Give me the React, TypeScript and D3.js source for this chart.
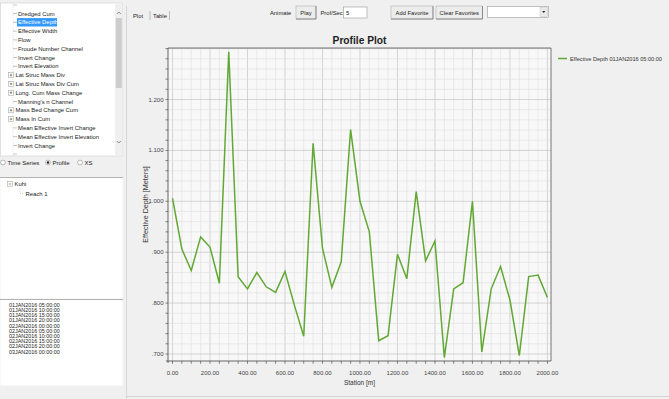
import React from 'react';
import * as d3 from 'd3';

const stations = [0, 50, 100, 150, 200, 250, 300, 350, 400, 450, 500, 550, 600, 650, 700, 750, 800, 850, 900, 950, 1000, 1050, 1100, 1150, 1200, 1250, 1300, 1350, 1400, 1450, 1500, 1550, 1600, 1650, 1700, 1750, 1800, 1850, 1900, 1950, 2000];
const effectiveDepth = [1.006, 0.906, 0.864, 0.930, 0.910, 0.839, 1.294, 0.852, 0.828, 0.860, 0.832, 0.821, 0.862, 0.796, 0.735, 1.114, 0.908, 0.831, 0.881, 1.141, 1.000, 0.940, 0.726, 0.736, 0.896, 0.848, 1.019, 0.883, 0.922, 0.693, 0.828, 0.840, 1.000, 0.704, 0.828, 0.872, 0.806, 0.697, 0.852, 0.855, 0.811];
const xMajorTicks = [0, 200, 400, 600, 800, 1000, 1200, 1400, 1600, 1800, 2000];
const yMajorTicks = [0.7, 0.8, 0.9, 1.0, 1.1, 1.2];
const seriesName = 'Effective Depth 01JAN2016 05:00:00';
const chartTitle = 'Profile Plot';
const xLabel = 'Station [m]';
const yLabel = 'Effective Depth [Meters]';

const variables = ['Dredged Cum', 'Effective Depth', 'Effective Width', 'Flow', 'Froude Number Channel', 'Invert Change', 'Invert Elevation', 'Lat Struc Mass Div', 'Lat Struc Mass Div Cum', 'Long. Cum Mass Change', "Manning's n Channel", 'Mass Bed Change Cum', 'Mass In Cum', 'Mean Effective Invert Change', 'Mean Effective Invert Elevation', 'Invert Change'];
const expandable = [false, false, false, false, false, false, false, true, true, true, false, true, true, false, false, false];
const times = ['01JAN2016 05:00:00', '01JAN2016 10:00:00', '01JAN2016 15:00:00', '01JAN2016 20:00:00', '02JAN2016 00:00:00', '02JAN2016 05:00:00', '02JAN2016 10:00:00', '02JAN2016 15:00:00', '02JAN2016 20:00:00', '03JAN2016 00:00:00'];

const UI = "'Liberation Sans', Arial, sans-serif";
const GREEN = '#62a834';

export default function App() {
  const left = 168, right = 551, top = 48, bottom = 361;
  const x = d3.scaleLinear().domain([-24, 2019]).range([left, right]);
  const y = d3.scaleLinear().domain([0.6862, 1.3012]).range([bottom, top]);
  const xMinor = d3.range(0, 2001, 50);
  const yMinor = d3.range(70, 131, 2).map((v) => v / 100);
  const line = d3.line<number>().x((_, i) => x(stations[i])).y((d) => y(d));
  const fy = (v: number) => d3.format('.3f')(v).replace(/^0/, '');
  const fx = d3.format('.2f');

  const button = (bx: number, bw: number, label: string) => (
    <g key={label}>
      <rect x={bx} y={6} width={bw} height={13} fill="#ececec" stroke="#b4b4b4" strokeWidth={0.6} />
      <line x1={bx + bw} y1={6} x2={bx + bw} y2={19} stroke="#7a7a7a" strokeWidth={0.8} />
      <line x1={bx} y1={19} x2={bx + bw} y2={19} stroke="#7a7a7a" strokeWidth={0.8} />
      <text x={bx + bw / 2} y={14.8} textAnchor="middle" fontSize={5.8} fill="#222">{label}</text>
    </g>
  );

  return (
    <svg width={669} height={399} style={{ position: 'absolute', left: 0, top: 0, fontFamily: UI }}>
      <defs>
        <clipPath id="listClip"><rect x={0} y={3} width={114} height={153} /></clipPath>
      </defs>
      <rect x={0} y={0} width={669} height={399} fill="#f0f0f0" />

      {/* Left panel: variable list */}
      <rect x={0.5} y={3} width={122} height={153} fill="#fff" stroke="#d0d0d0" strokeWidth={0.6} />
      <g clipPath="url(#listClip)">
        <line x1={13} y1={3} x2={13} y2={158} stroke="#c8c8c8" strokeWidth={0.5} strokeDasharray="1,1" />
        <line x1={13} y1={5} x2={17} y2={5} stroke="#aaa" strokeWidth={0.6} />
        <line x1={13} y1={154} x2={17} y2={154} stroke="#aaa" strokeWidth={0.6} />
        {variables.map((v, i) => {
          const iy = 13.5 + i * 8.8;
          const sel = i === 1;
          return (
            <g key={i}>
              {expandable[i] ? (
                <g>
                  <rect x={8.5} y={iy - 2.5} width={5} height={5} fill="#fff" stroke="#999" strokeWidth={0.5} />
                  <line x1={9.7} y1={iy} x2={12.3} y2={iy} stroke="#333" strokeWidth={0.5} />
                  <line x1={11} y1={iy - 1.3} x2={11} y2={iy + 1.3} stroke="#333" strokeWidth={0.5} />
                </g>
              ) : (
                <line x1={13} y1={iy} x2={17} y2={iy} stroke="#999" strokeWidth={0.6} />
              )}
              {sel && <rect x={17} y={iy - 4.2} width={40} height={8.4} fill="#3399ff" />}
              <text x={expandable[i] ? 15.5 : 18} y={iy + 2} fontSize={5.9} fill={sel ? '#fff' : '#222'}>{v}</text>
            </g>
          );
        })}
      </g>
      {/* scrollbar */}
      <rect x={115} y={3.5} width={7.5} height={152} fill="#f0f0f0" />
      <rect x={115.8} y={18} width={6} height={70} fill="#cdcdcd" />
      <path d="M116.8,14 L118.8,12 L120.8,14" fill="none" stroke="#606060" strokeWidth={0.7} />
      <path d="M116.8,141 L118.8,143 L120.8,141" fill="none" stroke="#606060" strokeWidth={0.7} />

      {/* radio row */}
      <circle cx={3} cy={162.5} r={2.4} fill="#fff" stroke="#777" strokeWidth={0.5} />
      <text x={7.5} y={164.7} fontSize={6} fill="#222">Time Series</text>
      <circle cx={48} cy={162.5} r={2.4} fill="#fff" stroke="#777" strokeWidth={0.5} />
      <circle cx={48} cy={162.5} r={1.2} fill="#222" />
      <text x={52.5} y={164.7} fontSize={6} fill="#222">Profile</text>
      <circle cx={80} cy={162.5} r={2.4} fill="#fff" stroke="#777" strokeWidth={0.5} />
      <text x={84.5} y={164.7} fontSize={6} fill="#222">XS</text>

      {/* river tree */}
      <rect x={0.5} y={177.5} width={122} height={121} fill="#fff" />
      <line x1={0} y1={177.5} x2={123} y2={177.5} stroke="#a0a0a0" strokeWidth={0.8} />
      <rect x={7.5} y={181.5} width={5} height={5} fill="#fff" stroke="#999" strokeWidth={0.5} />
      <line x1={8.7} y1={184} x2={11.3} y2={184} stroke="#333" strokeWidth={0.5} />
      <text x={14.5} y={186} fontSize={5.9} fill="#222">Kuhi</text>
      <path d="M20,187.5 V193.5 H24" fill="none" stroke="#aaa" strokeWidth={0.5} strokeDasharray="1,1" />
      <text x={25.5} y={195.5} fontSize={5.9} fill="#222">Reach 1</text>

      {/* time list */}
      <rect x={0.5} y={299.5} width={122} height={86} fill="#fff" />
      <line x1={0} y1={299.5} x2={123} y2={299.5} stroke="#a0a0a0" strokeWidth={0.8} />
      {times.map((t, i) => (
        <text key={i} x={9} y={306.8 + i * 5.2} fontSize={5.4} fill="#222">{t}</text>
      ))}

      {/* divider */}
      <line x1={126.5} y1={6} x2={126.5} y2={399} stroke="#d6d6d6" strokeWidth={1} />

      {/* tabs */}
      <text x={133} y={17.5} fontSize={5.8} fill="#222">Plot</text>
      <line x1={150} y1={11} x2={150} y2={20} stroke="#999" strokeWidth={0.6} />
      <text x={153} y={17.5} fontSize={5.8} fill="#222">Table</text>
      <line x1={169.5} y1={11} x2={169.5} y2={20} stroke="#999" strokeWidth={0.6} />

      {/* toolbar */}
      <text x={270} y={14.5} fontSize={5.8} fill="#222">Animate</text>
      {button(296, 20, 'Play')}
      <text x={320.5} y={14.5} fontSize={5.8} fill="#222">Prof/Sec</text>
      <rect x={343.5} y={7} width={23.5} height={11} fill="#fff" stroke="#9a9a9a" strokeWidth={0.6} />
      <text x={346} y={14.8} fontSize={5.8} fill="#222">5</text>
      {button(391, 42, 'Add Favorite')}
      {button(436, 46.5, 'Clear Favorites')}
      <rect x={487.5} y={6.5} width={61} height={11} fill="#fff" stroke="#9a9a9a" strokeWidth={0.6} />
      <rect x={540} y={7.5} width={7.5} height={9} fill="#eaeaea" stroke="#bbb" strokeWidth={0.4} />
      <path d="M542.2,11 L545.3,11 L543.75,13 Z" fill="#222" />

      {/* title */}
      <text x={359.5} y={43.5} textAnchor="middle" fontSize={10.2} fontWeight={700} fill="#222">{chartTitle}</text>

      {/* plot area */}
      <rect x={left} y={top} width={right - left} height={bottom - top} fill="#f8f8f8" />
      {xMinor.map((v) => (
        <line key={'xm' + v} x1={x(v)} x2={x(v)} y1={top} y2={bottom} stroke={v % 200 === 0 ? '#c4c4c4' : '#e3e3e3'} strokeWidth={0.7} />
      ))}
      {yMinor.map((v) => (
        <line key={'ym' + v} x1={left} x2={right} y1={y(v)} y2={y(v)} stroke={Math.round(v * 100) % 10 === 0 ? '#c4c4c4' : '#e3e3e3'} strokeWidth={0.7} />
      ))}
      <line x1={left} x2={right} y1={top} y2={top} stroke="#666" strokeWidth={0.9} />
      <line x1={right} x2={right} y1={top} y2={bottom} stroke="#666" strokeWidth={0.9} />
      <line x1={left} x2={left} y1={top} y2={bottom + 2} stroke="#555" strokeWidth={0.9} />
      <line x1={left - 2} x2={right} y1={bottom} y2={bottom} stroke="#555" strokeWidth={0.9} />
      {yMinor.map((v) => (
        <line key={'yt' + v} x1={left - 2.5} x2={left} y1={y(v)} y2={y(v)} stroke="#555" strokeWidth={0.7} />
      ))}
      {xMinor.map((v) => (
        <line key={'xt' + v} x1={x(v)} x2={x(v)} y1={bottom} y2={bottom + 2.8} stroke="#555" strokeWidth={0.7} />
      ))}
      {yMajorTicks.map((v) => (
        <text key={'yl' + v} x={163.5} y={y(v) + 2} textAnchor="end" fontSize={6} fill="#444">{fy(v)}</text>
      ))}
      {xMajorTicks.map((v) => (
        <text key={'xl' + v} x={x(v)} y={375} textAnchor="middle" fontSize={6} fill="#444">{fx(v)}</text>
      ))}
      <text x={359.5} y={384.5} textAnchor="middle" fontSize={6.5} fill="#333">{xLabel}</text>
      <text transform={`translate(147.5,${(top + bottom) / 2}) rotate(-90)`} textAnchor="middle" fontSize={7.2} fill="#333">{yLabel}</text>

      <path d={line(effectiveDepth) || ''} fill="none" stroke={GREEN} strokeWidth={1.5} strokeLinejoin="miter" />

      {/* legend */}
      <line x1={558} x2={567} y1={58.5} y2={58.5} stroke={GREEN} strokeWidth={1.5} />
      <text x={570} y={60.5} fontSize={5.6} fill="#333">{seriesName}</text>

      <line x1={127} x2={669} y1={396.5} y2={396.5} stroke="#d0d0d0" strokeWidth={1} />
    </svg>
  );
}
